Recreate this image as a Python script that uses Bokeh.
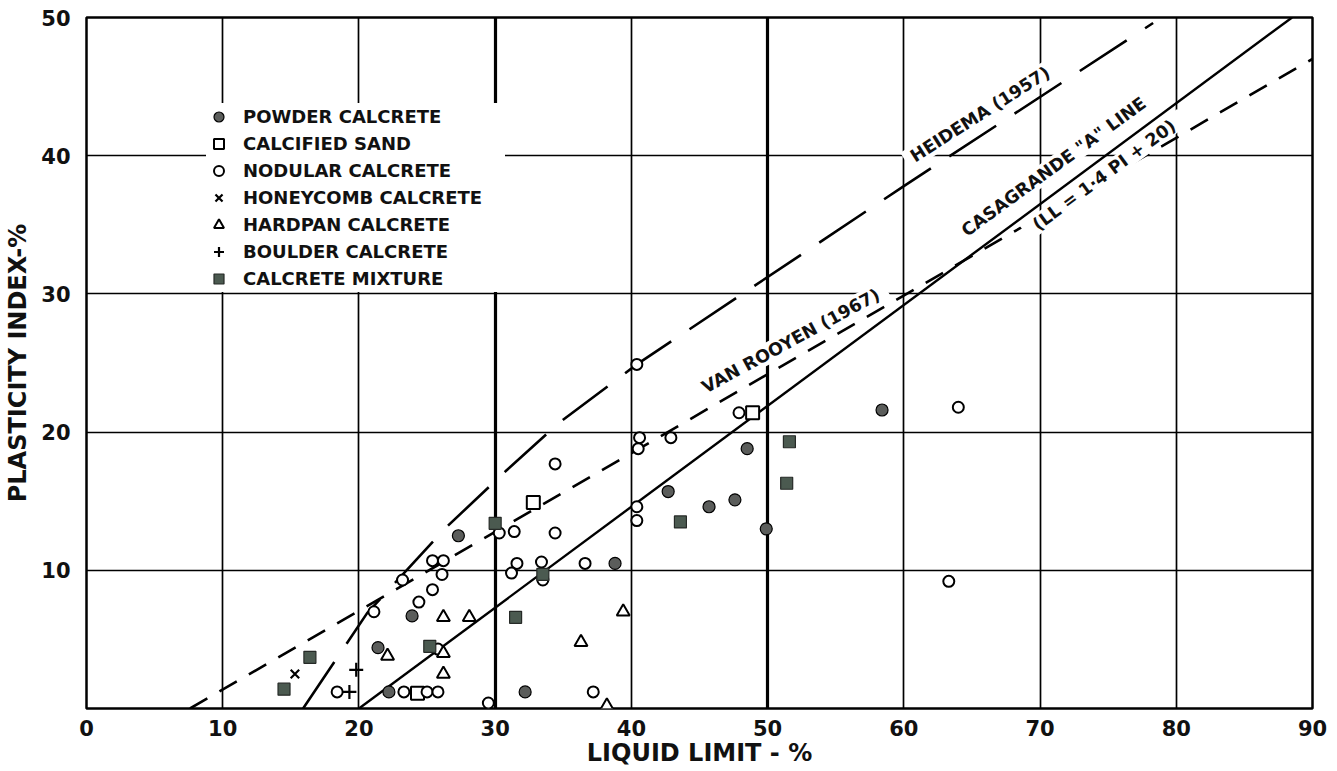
from bokeh.plotting import figure
from bokeh.models import Legend, LegendItem, FixedTicker, Range1d, Grid
from bokeh.core.properties import value
from bokeh.embed import file_html
from bokeh.resources import INLINE

FONT = "DejaVu Sans"

# ---- data (liquid limit %, plasticity index %) ----
powder_ll = [21.4, 22.2, 23.9, 27.3, 32.2, 38.8, 42.7, 45.7, 47.6, 48.5, 49.9, 58.4]
powder_pi = [4.4, 1.2, 6.7, 12.5, 1.2, 10.5, 15.7, 14.6, 15.1, 18.8, 13.0, 21.6]

sand_ll = [24.3, 32.8, 48.9]
sand_pi = [1.1, 14.9, 21.4]

nodular_ll = [18.4, 21.1, 23.2, 24.4, 25.4, 25.4, 26.2, 26.1, 25.8, 23.3, 25.0, 25.8,
              29.5, 30.3, 31.4, 31.6, 31.2, 33.4, 33.5, 34.4, 34.4, 36.6, 37.2, 40.4,
              40.6, 40.5, 42.9, 40.4, 40.4, 47.9, 64.0, 63.3]
nodular_pi = [1.2, 7.0, 9.3, 7.7, 8.6, 10.7, 10.7, 9.7, 4.3, 1.2, 1.2, 1.2,
              0.4, 12.7, 12.8, 10.5, 9.8, 10.6, 9.3, 17.7, 12.7, 10.5, 1.2, 24.9,
              19.6, 18.8, 19.6, 14.6, 13.6, 21.4, 21.8, 9.2]

honeycomb_ll = [15.3]
honeycomb_pi = [2.5]

hardpan_ll = [22.1, 26.2, 26.2, 26.2, 28.1, 36.3, 38.2, 39.4]
hardpan_pi = [3.8, 6.6, 4.0, 2.5, 6.6, 4.8, 0.2, 7.0]

boulder_ll = [19.8, 19.3]
boulder_pi = [2.8, 1.2]

mixture_ll = [14.5, 16.4, 25.2, 30.0, 31.5, 33.5, 43.6, 51.4, 51.6]
mixture_pi = [1.4, 3.7, 4.5, 13.4, 6.6, 9.7, 13.5, 16.3, 19.3]

# reference lines
casagrande_ll = [20.0, 88.5]
casagrande_pi = [0.0, 50.0]
heidema_ll = [15.9, 20.6, 26.4, 30.8, 34.6, 40.4, 60.0, 78.3]
heidema_pi = [0.0, 6.9, 13.1, 17.2, 20.6, 24.9, 37.8, 49.6]
rooyen_ll = [7.6, 90.0]
rooyen_pi = [0.0, 47.0]

# line labels
label_text = ["HEIDEMA (1957)", "CASAGRANDE \"A\" LINE", "(LL = 1·4 PI + 20)", "VAN ROOYEN (1967)"]
label_ll = [65.6, 71.0, 74.7, 51.7]
label_pi = [43.0, 39.2, 38.6, 26.6]
label_angle = [32.5, 36.0, 36.5, 28.5]
label_box_w = [176, 236, 196, 218]
label_box_h = [21, 20, 19, 21]

x_ticks = [0, 10, 20, 30, 40, 50, 60, 70, 80, 90]
y_ticks = [10, 20, 30, 40, 50]

p = figure(width=1337, height=771, output_backend="svg", toolbar_location=None,
           x_range=Range1d(0, 90), y_range=Range1d(0, 50),
           min_border_left=86, min_border_right=25, min_border_top=17, min_border_bottom=63)
p.background_fill_color = "white"
p.border_fill_color = "white"
p.outline_line_color = "black"
p.outline_line_width = 2.5

# grid
p.xgrid.ticker = FixedTicker(ticks=[10, 20, 40, 60, 70, 80])
p.ygrid.ticker = FixedTicker(ticks=[10, 20, 30, 40])
for g in (p.xgrid, p.ygrid):
    g.grid_line_color = "black"
    g.grid_line_width = 1.7
    g.grid_line_alpha = 1.0
thick = Grid(dimension=0, ticker=FixedTicker(ticks=[30, 50]),
             grid_line_color="black", grid_line_width=3.2)
p.add_layout(thick)

# axes
p.xaxis.ticker = FixedTicker(ticks=x_ticks)
p.yaxis.ticker = FixedTicker(ticks=y_ticks)
p.xaxis.axis_label = "LIQUID LIMIT - %"
p.yaxis.axis_label = "PLASTICITY INDEX-%"
for ax in (p.xaxis, p.yaxis):
    ax.axis_line_color = None
    ax.major_tick_line_color = None
    ax.minor_tick_line_color = None
    ax.major_label_text_font = FONT
    ax.major_label_text_font_size = "21px"
    ax.major_label_text_font_style = "bold"
    ax.major_label_text_color = "#111111"
    ax.axis_label_text_font = FONT
    ax.axis_label_text_font_size = "24px"
    ax.axis_label_text_font_style = "bold"
    ax.axis_label_text_color = "#111111"
p.xaxis.major_label_standoff = 5
p.xaxis.axis_label_standoff = 0
p.yaxis.major_label_standoff = 10
p.yaxis.axis_label_standoff = 6

# reference line drawn below label backings
p.line(rooyen_ll, rooyen_pi, line_color="black", line_width=2.6, line_dash="20 14")

# white backings for the line labels (interrupt grid lines)
p.rect(x=label_ll, y=label_pi, width=label_box_w, height=label_box_h,
       width_units="screen", height_units="screen",
       angle=label_angle, angle_units="deg",
       fill_color="white", line_color=None)

p.line(heidema_ll, heidema_pi, line_color="black", line_width=2.6, line_dash="56 22")
p.line(casagrande_ll, casagrande_pi, line_color="black", line_width=2.4)

p.text(x=label_ll, y=label_pi, text=label_text, angle=label_angle, angle_units="deg",
       text_align="center", text_baseline="middle", text_font=value(FONT),
       text_font_size="17.5px", text_font_style="bold", text_color="#111111")

# points
r_powder = p.scatter(powder_ll, powder_pi, marker="circle", size=12,
                     fill_color="#5b5d5b", line_color="black", line_width=1.2)
r_sand = p.scatter(sand_ll, sand_pi, marker="square", size=13,
                   fill_color="white", line_color="black", line_width=2)
r_nodular = p.scatter(nodular_ll, nodular_pi, marker="circle", size=11,
                      fill_color="white", line_color="black", line_width=2)
r_honey = p.scatter(honeycomb_ll, honeycomb_pi, marker="x", size=12,
                    line_color="black", line_width=2.2)
r_hard = p.scatter(hardpan_ll, hardpan_pi, marker="triangle", size=13,
                   fill_color="white", line_color="black", line_width=2)
r_boulder = p.scatter(boulder_ll, boulder_pi, marker="cross", size=14,
                      line_color="black", line_width=2.2)
r_mix = p.scatter(mixture_ll, mixture_pi, marker="square", size=12,
                  fill_color="#4b5a50", line_color="#262a27", line_width=1.2)

legend = Legend(items=[
    LegendItem(label="POWDER CALCRETE", renderers=[r_powder]),
    LegendItem(label="CALCIFIED SAND", renderers=[r_sand]),
    LegendItem(label="NODULAR CALCRETE", renderers=[r_nodular]),
    LegendItem(label="HONEYCOMB CALCRETE", renderers=[r_honey]),
    LegendItem(label="HARDPAN CALCRETE", renderers=[r_hard]),
    LegendItem(label="BOULDER CALCRETE", renderers=[r_boulder]),
    LegendItem(label="CALCRETE MIXTURE", renderers=[r_mix]),
], location=(120, 416), orientation="vertical")
legend.border_line_color = None
legend.background_fill_color = "white"
legend.background_fill_alpha = 1.0
legend.padding = 3
legend.margin = 0
legend.spacing = 0
legend.glyph_width = 25
legend.glyph_height = 27
legend.label_height = 27
legend.label_width = 262
legend.label_standoff = 12
legend.label_text_font = FONT
legend.label_text_font_size = "18px"
legend.label_text_font_style = "bold"
legend.label_text_color = "#111111"
p.add_layout(legend)

open("out.html", "w").write(file_html(p, INLINE))
